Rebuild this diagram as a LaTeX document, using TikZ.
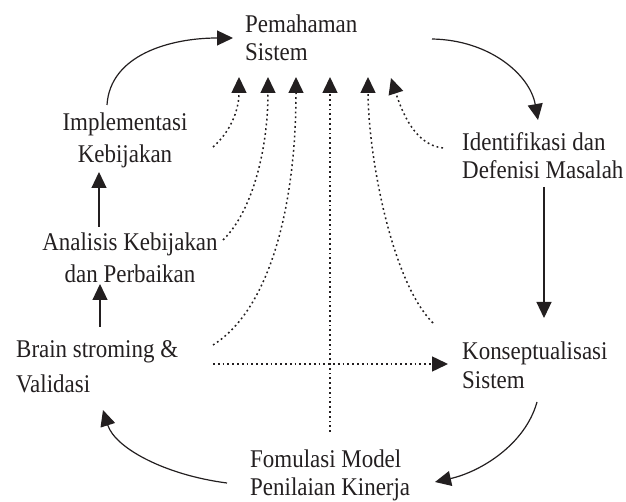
\documentclass[tikz,border=0pt]{standalone}
\usepackage{fontspec}
\setmainfont{Liberation Serif}[FakeStretch=0.9]
\usetikzlibrary{arrows.meta}
\definecolor{ink}{RGB}{35,31,32}
\begin{document}
\begin{tikzpicture}[x=1pt,y=-1pt,
  lbl/.style={inner sep=0pt,text=ink,font=\fontsize{25.5}{28}\selectfont},
  solidarr/.style={draw=ink,line width=1.2pt,-{Triangle[length=16pt,width=15pt]}},
  dotarr/.style={draw=ink,line width=1.5pt,dash pattern=on 1.8pt off 3pt,-{Triangle[length=16pt,width=15pt]}}]
\useasboundingbox (0,0) rectangle (626,502);
% nodes
\node[lbl,anchor=west,align=left] (pem) at (245,37.3) {Pemahaman\\Sistem};
\node[lbl,anchor=west,align=left] (idf) at (462,155.8) {Identifikasi dan\\Defenisi Masalah};
\node[lbl,align=center] (imp) at (125,140) {Implementasi\\[4pt]Kebijakan};
\node[lbl,align=center] (ana) at (130,257.3) {Analisis Kebijakan\\[4pt]dan Perbaikan};
\node[lbl,anchor=west,align=left] (brn) at (16,366.8) {Brain stroming \&\\[7pt]Validasi};
\node[lbl,anchor=west,align=left] (kon) at (462,364.8) {Konseptualisasi\\[1pt]Sistem};
\node[lbl,anchor=west,align=left] (fom) at (250,475) {Fomulasi Model\\Penilaian Kinerja};
% connector end coordinates
\coordinate (impT) at (107,105);
\coordinate (pemL) at (233,38);
\coordinate (pemR) at (432,39);
\coordinate (idfT) at (538,120);
\coordinate (idfB) at (544,187);
\coordinate (konT) at (544,318);
\coordinate (konB) at (537,402);
\coordinate (fomR) at (435,482);
\coordinate (fomL) at (227,483);
\coordinate (brnB) at (103,410);
\coordinate (brnT) at (100,327);
\coordinate (anaB) at (100,284);
\coordinate (anaT) at (99,227);
\coordinate (impB) at (99,172);
% solid cycle
\draw[solidarr] (impT) .. controls (110,55) and (170,38) .. (pemL);
\draw[solidarr] (pemR) .. controls (490,40) and (530,75) .. (idfT);
\draw[solidarr] (idfB) -- (konT);
\draw[solidarr] (konB) .. controls (525,445) and (480,472) .. (fomR);
\draw[solidarr] (fomL) .. controls (165,475) and (115,448) .. (brnB);
\draw[solidarr] (brnT) -- (anaB);
\draw[solidarr] (anaT) -- (impB);
% dotted feedback
\coordinate (impR) at (213,147);
\coordinate (anaR) at (223,240);
\coordinate (brnR) at (213,345);
\coordinate (brnR2) at (213,364);
\coordinate (fomT) at (330,432);
\coordinate (konTL) at (433,323);
\coordinate (konL) at (448,364);
\coordinate (idfL) at (443,148);
\coordinate (pa) at (239,77);
\coordinate (pb) at (268,77);
\coordinate (pc) at (296,77);
\coordinate (pd) at (330,77);
\coordinate (pe) at (368,77);
\coordinate (pf) at (391,78);
\draw[dotarr] (impR) .. controls (229,133) and (239,112) .. (pa);
\draw[dotarr] (anaR) .. controls (252,212) and (268,150) .. (pb);
\draw[dotarr] (brnR) .. controls (272,308) and (296,200) .. (pc);
\draw[dotarr] (fomT) -- (pd);
\draw[dotarr] (konTL) .. controls (390,280) and (368,150) .. (pe);
\draw[dotarr] (idfL) .. controls (415,145) and (402,112) .. (pf);
\draw[dotarr] (brnR2) -- (konL);
\end{tikzpicture}
\end{document}
